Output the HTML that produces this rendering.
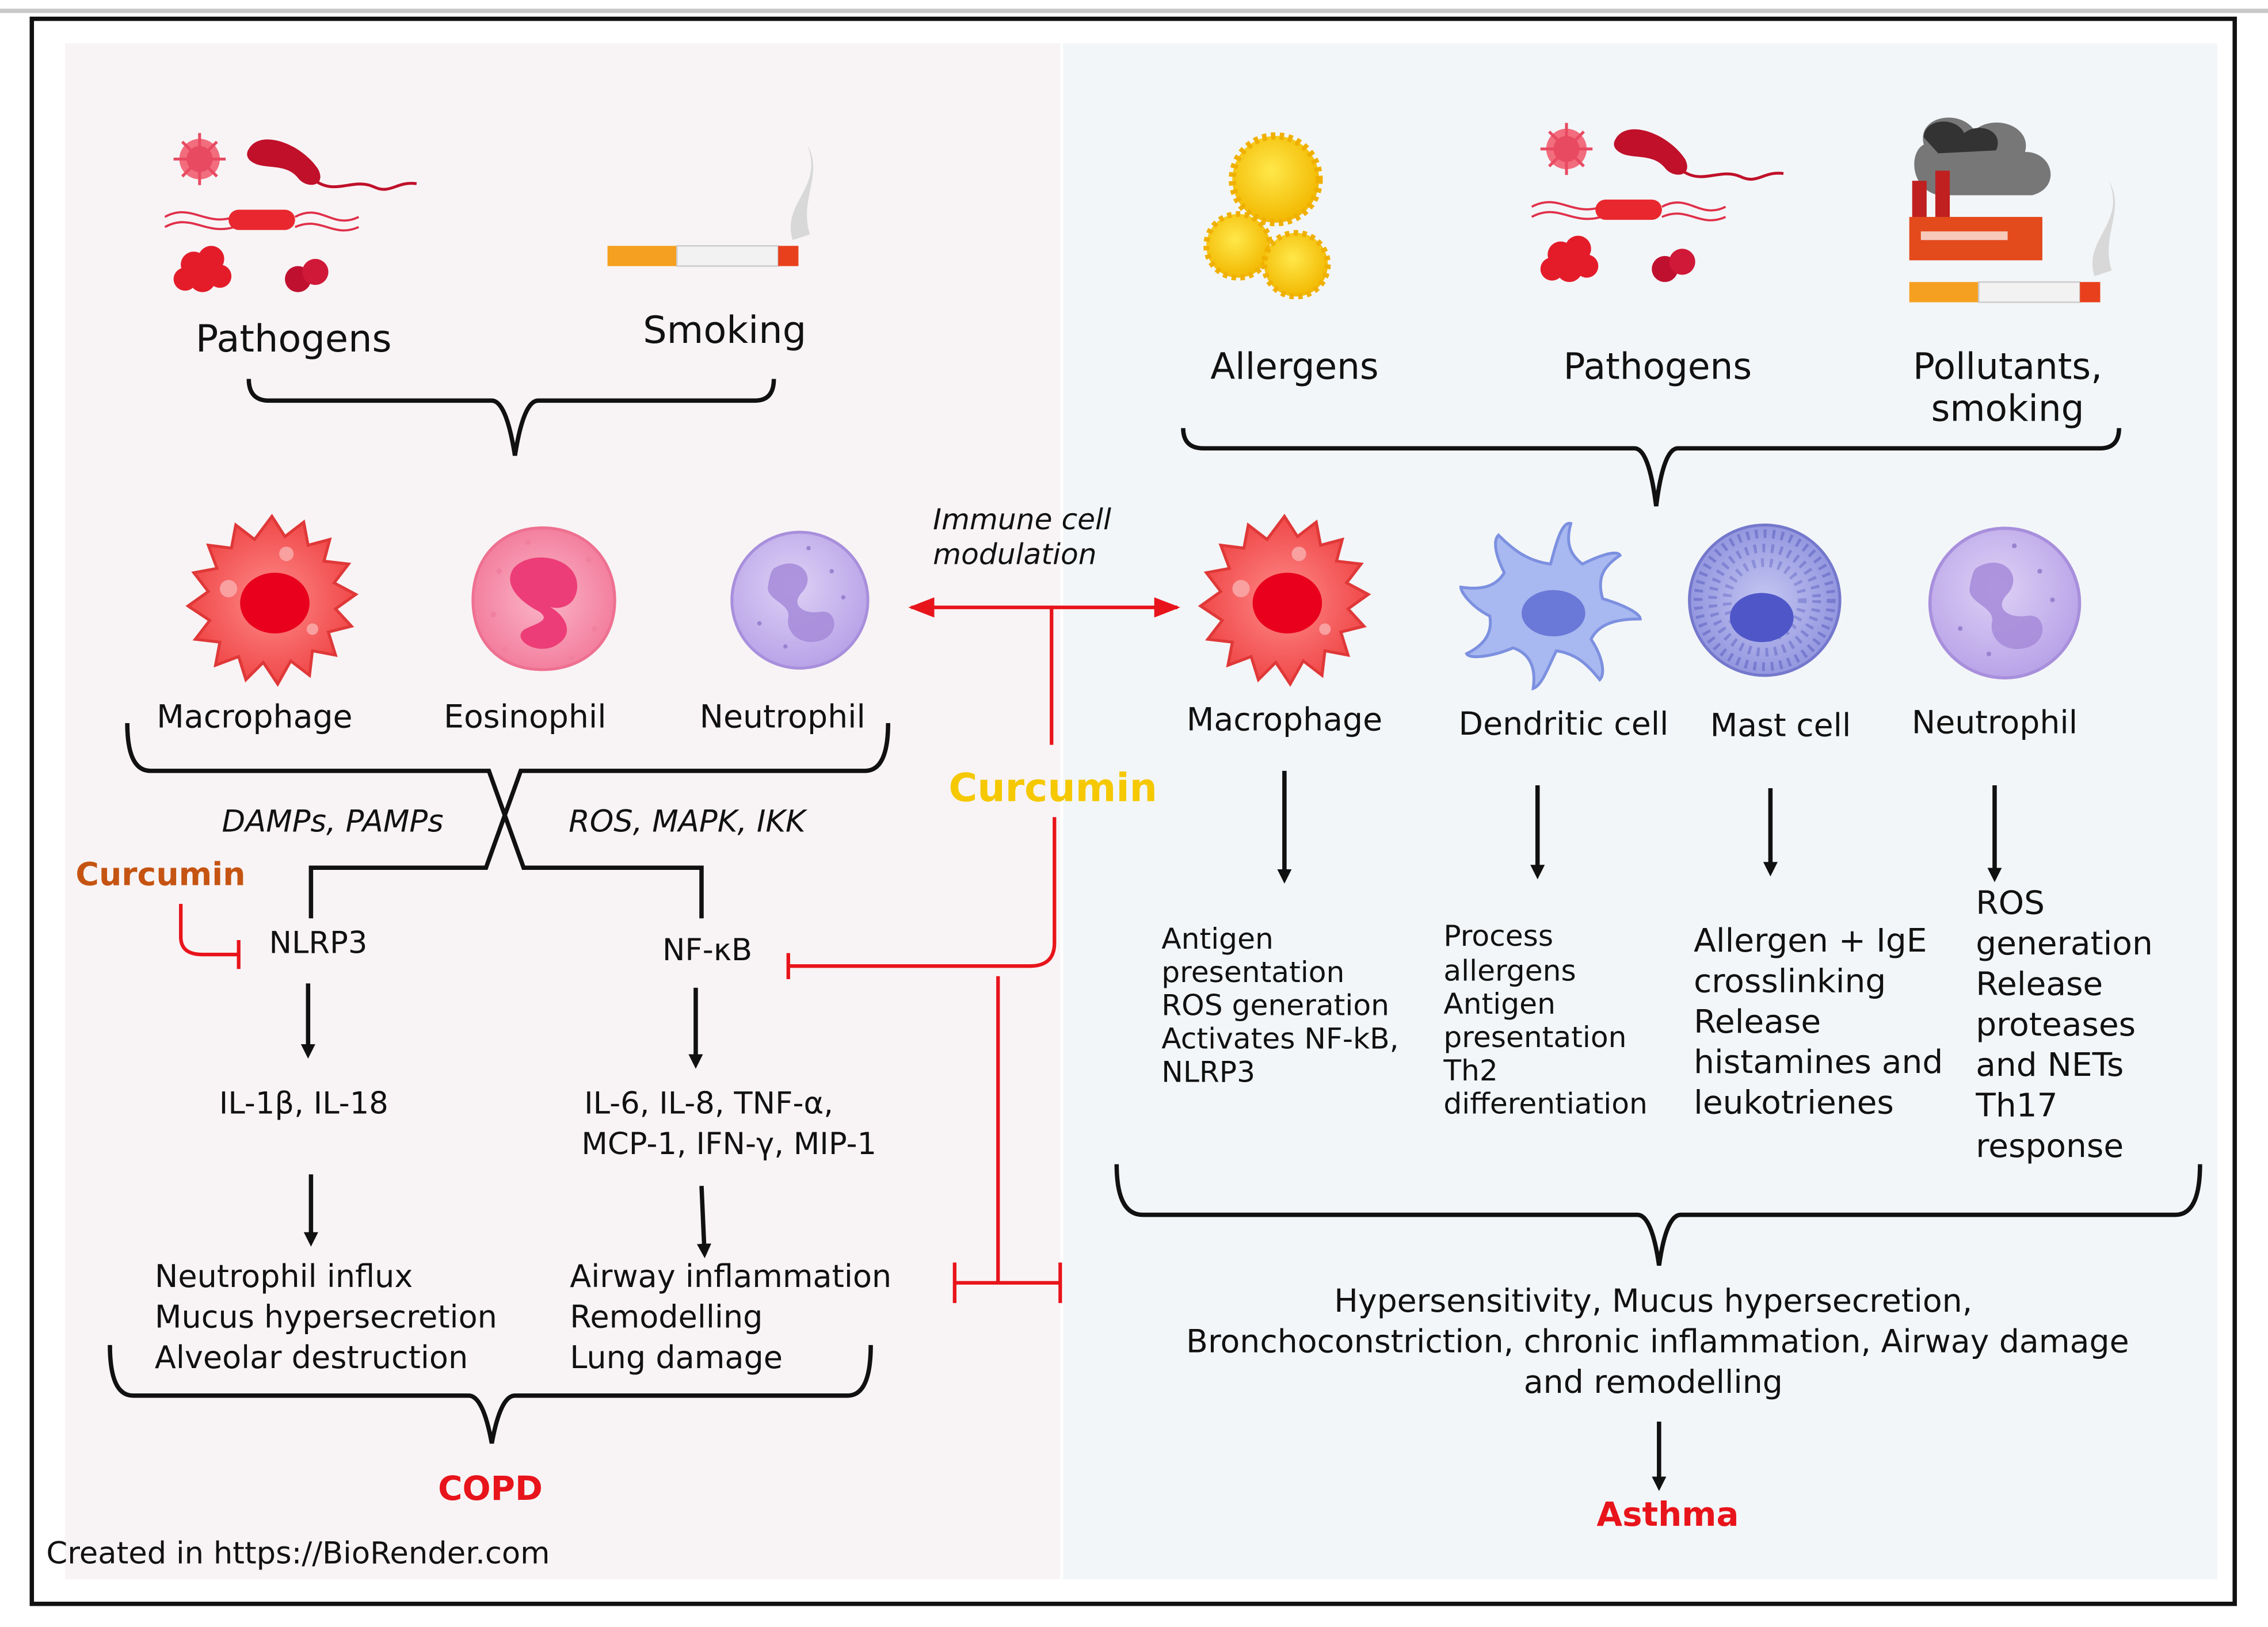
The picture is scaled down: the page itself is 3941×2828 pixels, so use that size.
<!DOCTYPE html>
<html><head><meta charset="utf-8">
<style>
html,body{margin:0;padding:0;background:#fff;}
svg{display:block;}
text{font-family:"DejaVu Sans","Liberation Sans",sans-serif;fill:#111;}
</style></head>
<body>
<svg width="3941" height="2828" viewBox="0 0 1568 1125" preserveAspectRatio="none" xmlns="http://www.w3.org/2000/svg">
<defs>
<marker id="ah" markerWidth="10" markerHeight="10" refX="5" refY="5" orient="auto" markerUnits="userSpaceOnUse" viewBox="0 0 10 10">
<path d="M0,0 L10,5 L0,10 z" fill="#111"/></marker>
<marker id="rh" markerWidth="18" markerHeight="14" refX="16" refY="7" orient="auto" markerUnits="userSpaceOnUse">
<path d="M0,0 L18,7 L0,14 z" fill="#e8141b"/></marker>
<radialGradient id="gRed" cx="50%" cy="50%" r="50%"><stop offset="0" stop-color="#ff8a8a"/><stop offset="1" stop-color="#f04848"/></radialGradient>
<radialGradient id="gLav" cx="45%" cy="40%" r="60%"><stop offset="0" stop-color="#ddd0f5"/><stop offset="1" stop-color="#b9a3e8"/></radialGradient>
<radialGradient id="gPink" cx="50%" cy="50%" r="55%"><stop offset="0" stop-color="#fbb6c8"/><stop offset="1" stop-color="#f27a9a"/></radialGradient>
<radialGradient id="gMast" cx="50%" cy="50%" r="55%"><stop offset="0" stop-color="#c4c6f2"/><stop offset="1" stop-color="#8f92dd"/></radialGradient>
<radialGradient id="gYel" cx="45%" cy="40%" r="60%"><stop offset="0" stop-color="#ffe84a"/><stop offset="1" stop-color="#f2b800"/></radialGradient>
<g id="macro">
<path d="M0,-58 L9,-44 L22,-54 L25,-38 L40,-42 L36,-27 L53,-25 L43,-12 L58,-4 L44,6 L55,18 L39,22 L44,38 L28,35 L26,52 L13,42 L4,58 L-6,43 L-18,55 L-23,39 L-39,45 L-36,29 L-53,27 L-43,14 L-58,4 L-44,-6 L-54,-19 L-38,-22 L-44,-38 L-28,-36 L-25,-52 L-12,-42 z" fill="url(#gRed)" stroke="#e03838" stroke-width="2"/>
<circle r="6" cx="-30" cy="-8" fill="#f9a0a0"/><circle r="4" cx="28" cy="20" fill="#f9a0a0"/><circle r="5" cx="10" cy="-32" fill="#f9a0a0"/>
<ellipse cx="2" cy="2" rx="24" ry="21" fill="#e8001c"/>
</g>
<g id="neut">
<circle r="47" fill="url(#gLav)" stroke="#a88fdc" stroke-width="2"/>
<path d="M-18,-22 C-2,-32 12,-18 2,-6 C-8,4 4,10 14,8 C26,6 28,24 14,28 C0,32 -10,22 -8,12 C-6,2 -24,0 -22,-10 C-21,-16 -20,-20 -18,-22z" fill="#a68ad9" opacity="0.85"/>
<g fill="#9a82d0"><circle cx="22" cy="-20" r="1.5"/><circle cx="-28" cy="16" r="1.5"/><circle cx="30" cy="-2" r="1.5"/><circle cx="-10" cy="32" r="1.5"/><circle cx="6" cy="-36" r="1.5"/></g>
</g>
<g id="patho">
<circle cx="26" cy="15" r="14" fill="#f26d7e"/><circle cx="26" cy="15" r="9" fill="#e84a62"/>
<g stroke="#e84a62" stroke-width="2"><line x1="26" y1="-3" x2="26" y2="33"/><line x1="8" y1="15" x2="44" y2="15"/><line x1="14" y1="3" x2="38" y2="27"/><line x1="38" y1="3" x2="14" y2="27"/></g>
<path d="M60,8 C68,-6 96,4 108,22 C114,34 100,36 94,28 C86,18 72,22 64,18 C58,15 58,11 60,8z" fill="#c0102a"/>
<path d="M106,30 C120,40 132,28 146,34 C158,40 162,30 176,32" stroke="#c0102a" stroke-width="2" fill="none"/>
<path d="M2,55 C20,45 30,62 50,55 M2,62 C20,52 30,68 50,62" stroke="#e0304a" stroke-width="1.5" fill="none"/>
<rect x="46" y="50" width="46" height="14" rx="7" fill="#e8282e"/>
<path d="M92,55 C110,45 118,64 136,55 M92,62 C110,54 118,70 136,62" stroke="#e0304a" stroke-width="1.5" fill="none"/>
<g fill="#e41c2a"><circle cx="22" cy="88" r="9"/><circle cx="34" cy="84" r="9"/><circle cx="28" cy="98" r="9"/><circle cx="16" cy="98" r="8"/><circle cx="40" cy="96" r="8"/></g>
<circle cx="94" cy="98" r="9" fill="#c01030"/><circle cx="106" cy="93" r="9" fill="#d01838"/>
</g>
<g id="cig">
<rect x="0" y="0" width="48" height="14" fill="#f5a020"/>
<rect x="48" y="0" width="70" height="14" fill="#f2f2f2" stroke="#ccc"/>
<rect x="118" y="0" width="14" height="14" fill="#e8401c"/>
<path d="M128,-4 C120,-30 150,-40 138,-70 C150,-50 132,-32 140,-8z" fill="#d8d8d8"/>
</g>
</defs>

<rect width="1568" height="1125" fill="#fff"/>
<rect x="0" y="6" width="1568" height="3" fill="#c8c8c8"/>
<rect x="45" y="30" width="688" height="1062" fill="#f8f4f5"/>
<rect x="735" y="30" width="798" height="1062" fill="#f3f6f8"/>
<rect x="22" y="13" width="1523" height="1096" fill="none" stroke="#111" stroke-width="3"/>

<!-- LEFT -->
<use href="#patho" x="112" y="95"/>
<use href="#cig" x="420" y="170"/>
<text x="203" y="243" font-size="26" text-anchor="middle">Pathogens</text>
<text x="501" y="237" font-size="26" text-anchor="middle">Smoking</text>
<path d="M172,262 Q172,277 186,277 L340,277 Q350,277 356,315 Q362,277 372,277 L522,277 Q535,277 535,262" fill="none" stroke="#111" stroke-width="3"/>

<use href="#macro" x="188" y="415"/>
<g transform="translate(375,415)">
<path d="M0,-50 C30,-50 50,-28 50,0 C50,30 28,48 0,48 C-30,48 -48,28 -48,0 C-48,-30 -28,-50 0,-50z" fill="url(#gPink)" stroke="#ee7090" stroke-width="2"/>
<path d="M-20,-22 C-8,-36 26,-30 24,-8 C22,8 6,6 4,4 C16,10 24,24 8,32 C-6,38 -22,26 -12,20 C-4,16 6,14 -2,8 C-14,2 -28,-10 -20,-22z" fill="#ec3d78"/>
<g fill="#f1809f"><circle cx="-34" cy="10" r="2"/><circle cx="-30" cy="-20" r="2"/><circle cx="32" cy="-28" r="2"/><circle cx="36" cy="20" r="2"/><circle cx="-10" cy="-40" r="2"/><circle cx="20" cy="40" r="2"/><circle cx="-26" cy="34" r="2"/></g>
</g>
<use href="#neut" x="553" y="415"/>
<text x="176" y="503" font-size="22" text-anchor="middle">Macrophage</text>
<text x="363" y="503" font-size="22" text-anchor="middle">Eosinophil</text>
<text x="541" y="503" font-size="22" text-anchor="middle">Neutrophil</text>
<path d="M88,500 Q88,533 104,533 L338,533 L362,600 L485,600 L485,635" fill="none" stroke="#111" stroke-width="3"/>
<path d="M614,500 Q614,533 598,533 L360,533 L336,600 L215,600 L215,635" fill="none" stroke="#111" stroke-width="3"/>
<text x="230" y="575" font-size="21" font-style="italic" text-anchor="middle">DAMPs, PAMPs</text>
<text x="475" y="575" font-size="21" font-style="italic" text-anchor="middle">ROS, MAPK, IKK</text>
<text x="111" y="612" font-size="22" font-weight="bold" text-anchor="middle" style="fill:#c55412">Curcumin</text>
<path d="M125,625 L125,648 Q125,660 140,660 L165,660 M165,650 L165,670" fill="none" stroke="#e8141b" stroke-width="2.5"/>
<text x="220" y="659" font-size="21" text-anchor="middle">NLRP3</text>
<text x="489" y="664" font-size="21" text-anchor="middle">NF-κB</text>
<line x1="213" y1="680" x2="213" y2="727" stroke="#111" stroke-width="3" marker-end="url(#ah)"/>
<line x1="481" y1="683" x2="481" y2="734" stroke="#111" stroke-width="3" marker-end="url(#ah)"/>
<text x="210" y="770" font-size="21" text-anchor="middle">IL-1β, IL-18</text>
<text x="490" y="770" font-size="21" text-anchor="middle">IL-6, IL-8, TNF-α,</text>
<text x="504" y="798" font-size="21" text-anchor="middle">MCP-1, IFN-γ, MIP-1</text>
<line x1="215" y1="812" x2="215" y2="857" stroke="#111" stroke-width="3" marker-end="url(#ah)"/>
<line x1="485" y1="820" x2="487" y2="865" stroke="#111" stroke-width="3" marker-end="url(#ah)"/>
<g font-size="21.5">
<text x="107" y="890">Neutrophil influx</text><text x="107" y="918">Mucus hypersecretion</text><text x="107" y="946">Alveolar destruction</text>
<text x="394" y="890">Airway inflammation</text><text x="394" y="918">Remodelling</text><text x="394" y="946">Lung damage</text>
</g>
<path d="M76,930 Q76,965 92,965 L324,965 Q334,965 340,998 Q346,965 356,965 L586,965 Q602,965 602,930" fill="none" stroke="#111" stroke-width="3"/>
<text x="339" y="1037" font-size="23" font-weight="bold" text-anchor="middle" style="fill:#e8141b">COPD</text>
<text x="32" y="1081" font-size="21">Created in  https://BioRender.com</text>

<!-- CENTER -->
<text x="645" y="366" font-size="20" font-style="italic">Immune cell</text>
<text x="645" y="390" font-size="20" font-style="italic">modulation</text>
<line x1="728" y1="420" x2="630" y2="420" stroke="#e8141b" stroke-width="2.5" marker-end="url(#rh)"/>
<line x1="726" y1="420" x2="814" y2="420" stroke="#e8141b" stroke-width="2.5" marker-end="url(#rh)"/>
<line x1="727" y1="420" x2="727" y2="515" stroke="#e8141b" stroke-width="2.5"/>
<text x="728" y="554" font-size="27" font-weight="bold" text-anchor="middle" style="fill:#f5c800">Curcumin</text>
<path d="M729,565 L729,652 Q729,668 712,668 L545,668 M545,659 L545,677" fill="none" stroke="#e8141b" stroke-width="2.5"/>
<path d="M690,675 L690,887 M660,887 L733,887 M660,873 L660,901 M733,873 L733,901" fill="none" stroke="#e8141b" stroke-width="2.5"/>

<!-- RIGHT -->
<g>
<circle cx="882" cy="124" r="30" fill="url(#gYel)" stroke="#f0b000" stroke-width="5" stroke-dasharray="3 3"/>
<circle cx="856" cy="170" r="22" fill="url(#gYel)" stroke="#f0b000" stroke-width="4" stroke-dasharray="3 3"/>
<circle cx="896" cy="183" r="22" fill="url(#gYel)" stroke="#f0b000" stroke-width="4" stroke-dasharray="3 3"/>
</g>
<use href="#patho" x="1057" y="88"/>
<g>
<path d="M1330,100 C1325,80 1355,75 1365,90 C1380,78 1405,88 1400,105 C1420,105 1425,130 1405,135 L1340,135 C1320,130 1320,105 1330,100z" fill="#777"/>
<path d="M1330,95 C1330,82 1352,80 1358,92 C1368,84 1386,90 1380,104 L1340,106z" fill="#333"/>
<rect x="1322" y="125" width="10" height="55" fill="#c02020"/><rect x="1338" y="118" width="10" height="62" fill="#c02020"/>
<rect x="1320" y="150" width="92" height="30" fill="#e34a1c"/>
<rect x="1328" y="160" width="60" height="6" fill="#fff" opacity="0.7"/>
<use href="#cig" x="1320" y="195"/>
</g>
<text x="895" y="262" font-size="25" text-anchor="middle">Allergens</text>
<text x="1146" y="262" font-size="25" text-anchor="middle">Pathogens</text>
<text x="1388" y="262" font-size="25" text-anchor="middle">Pollutants,</text>
<text x="1388" y="291" font-size="25" text-anchor="middle">smoking</text>
<path d="M818,296 Q818,310 832,310 L1130,310 Q1140,310 1145,350 Q1150,310 1160,310 L1452,310 Q1465,310 1465,296" fill="none" stroke="#111" stroke-width="3"/>

<use href="#macro" x="888" y="415"/>
<g transform="translate(1072,420)">
<path d="M0,-30 C4,-45 8,-60 14,-58 C10,-44 14,-36 22,-30 C34,-36 46,-40 48,-36 C36,-28 32,-20 36,-6 C50,-2 62,4 62,8 C48,8 34,10 28,22 C36,34 38,46 34,50 C26,40 18,32 4,30 C-2,42 -6,54 -12,56 C-10,42 -14,32 -26,28 C-40,34 -56,36 -58,32 C-46,26 -40,18 -42,6 C-54,0 -62,-10 -62,-14 C-48,-12 -38,-14 -32,-24 C-38,-36 -40,-46 -36,-50 C-26,-40 -16,-32 0,-30z" fill="#a8b8f0" stroke="#7c90e0" stroke-width="2"/>
<ellipse cx="2" cy="4" rx="22" ry="16" fill="#6a78d8"/>
</g>
<g transform="translate(1220,415)">
<circle r="52" fill="url(#gMast)" stroke="#7478cc" stroke-width="2"/>
<circle r="46" fill="none" stroke="#6a6ec8" stroke-width="6" stroke-dasharray="2 4" opacity="0.7"/>
<circle r="36" fill="none" stroke="#6a6ec8" stroke-width="6" stroke-dasharray="2 4" opacity="0.6"/>
<circle r="26" fill="none" stroke="#6a6ec8" stroke-width="6" stroke-dasharray="2 4" opacity="0.5"/>
<ellipse cx="-2" cy="12" rx="22" ry="17" fill="#4f56c8"/>
</g>
<g transform="translate(1386,417) scale(1.1)"><use href="#neut"/></g>
<text x="888" y="505" font-size="22" text-anchor="middle">Macrophage</text>
<text x="1081" y="508" font-size="22" text-anchor="middle">Dendritic cell</text>
<text x="1231" y="509" font-size="22" text-anchor="middle">Mast cell</text>
<text x="1379" y="507" font-size="22" text-anchor="middle">Neutrophil</text>
<line x1="888" y1="533" x2="888" y2="606" stroke="#111" stroke-width="3" marker-end="url(#ah)"/>
<line x1="1063" y1="543" x2="1063" y2="603" stroke="#111" stroke-width="3" marker-end="url(#ah)"/>
<line x1="1224" y1="545" x2="1224" y2="601" stroke="#111" stroke-width="3" marker-end="url(#ah)"/>
<line x1="1379" y1="543" x2="1379" y2="605" stroke="#111" stroke-width="3" marker-end="url(#ah)"/>
<g font-size="20">
<text x="803" y="656">Antigen</text><text x="803" y="679">presentation</text><text x="803" y="702">ROS generation</text><text x="803" y="725">Activates NF-kB,</text><text x="803" y="748">NLRP3</text>
<text x="998" y="654">Process</text><text x="998" y="678">allergens</text><text x="998" y="701">Antigen</text><text x="998" y="724">presentation</text><text x="998" y="747">Th2</text><text x="998" y="770">differentiation</text>
</g>
<g font-size="22.5">
<text x="1171" y="658">Allergen + IgE</text><text x="1171" y="686">crosslinking</text><text x="1171" y="714">Release</text><text x="1171" y="742">histamines and</text><text x="1171" y="770">leukotrienes</text>
<text x="1366" y="632">ROS</text><text x="1366" y="660">generation</text><text x="1366" y="688">Release</text><text x="1366" y="716">proteases</text><text x="1366" y="744">and  NETs</text><text x="1366" y="772">Th17</text><text x="1366" y="800">response</text>
</g>
<path d="M772,805 Q772,840 790,840 L1132,840 Q1142,840 1147,875 Q1152,840 1162,840 L1504,840 Q1521,840 1521,805" fill="none" stroke="#111" stroke-width="3"/>
<g font-size="22" text-anchor="middle">
<text x="1143" y="907">Hypersensitivity, Mucus hypersecretion,</text>
<text x="1146" y="935">Bronchoconstriction, chronic inflammation, Airway damage</text>
<text x="1143" y="963">and remodelling</text>
</g>
<line x1="1147" y1="983" x2="1147" y2="1026" stroke="#111" stroke-width="3" marker-end="url(#ah)"/>
<text x="1153" y="1055" font-size="23" font-weight="bold" text-anchor="middle" style="fill:#e8141b">Asthma</text>
</svg>
</body></html>
